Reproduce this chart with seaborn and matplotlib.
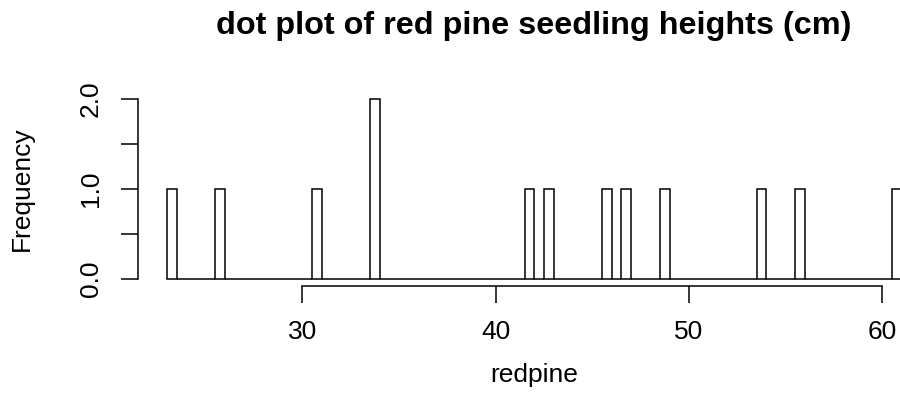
import numpy as np
import pandas as pd
import seaborn as sns
import matplotlib.pyplot as plt

# seedling heights (cm) (right-closed 0.5 cm bins)
redpine = [23.5, 26, 31, 34, 34, 42, 43, 46, 47, 49, 54, 56, 61]
bin_start, bin_stop, bin_width = 23, 61, 0.5
x_ticks = [30, 40, 50, 60]
y_ticks = [0.0, 0.5, 1.0, 1.5, 2.0]
y_tick_labels = ["0.0", "", "1.0", "", "2.0"]

edges = np.arange(bin_start, bin_stop + bin_width / 2, bin_width)
counts = pd.cut(pd.Series(redpine), edges, right=True).value_counts(sort=False)
df = pd.DataFrame({"mid": edges[:-1] + bin_width / 2, "count": counts.values})

sns.set_style("white")
plt.rcParams["font.family"] = ["Liberation Sans", "DejaVu Sans"]
plt.rcParams["text.color"] = "black"

fig = plt.figure(figsize=(9, 4.17), dpi=100)
W, H = 900, 417
# plot region in pixels (R usr extends 4% beyond the data range)
px_left, px_right, px_top, px_bottom = 137.5, 931, 92, 285.7
ax = fig.add_axes([px_left / W, 1 - px_bottom / H,
                   (px_right - px_left) / W, (px_bottom - px_top) / H])

sns.histplot(data=df, x="mid", weights="count", binwidth=bin_width,
             binrange=(bin_start, bin_stop), ax=ax,
             color="white", edgecolor="black", linewidth=1.1, alpha=1)

xr = bin_stop - bin_start
ax.set_xlim(bin_start - 0.04 * xr, bin_stop + 0.04 * xr)
ax.set_ylim(-0.08, 2.08)

for s in ["top", "right"]:
    ax.spines[s].set_visible(False)
ax.spines["bottom"].set_bounds(x_ticks[0], x_ticks[-1])
ax.spines["left"].set_bounds(y_ticks[0], y_ticks[-1])
for s in ["bottom", "left"]:
    ax.spines[s].set_color("black")
    ax.spines[s].set_linewidth(1.1)

ax.set_xticks(x_ticks)
ax.set_xticklabels([str(t) for t in x_ticks])
ax.set_yticks(y_ticks)
ax.set_yticklabels(y_tick_labels, rotation=90, va="center")
ax.tick_params(axis="both", direction="out", length=12, width=1.1,
               color="black", labelsize=19, labelcolor="black",
               bottom=True, left=True)
ax.tick_params(axis="x", pad=13)
ax.tick_params(axis="y", pad=13)
ax.set_xlabel("")
ax.set_ylabel("")

fig.text(534 / W, 1 - 26 / H,
         "dot plot of red pine seedling heights (cm)",
         ha="center", va="center", fontsize=23.3, fontweight="bold")
fig.text((px_left + px_right) / 2 / W, 1 - 375 / H, "redpine",
         ha="center", va="center", fontsize=19)
fig.text(22 / W, 1 - (px_top + px_bottom) / 2 / H, "Frequency",
         ha="center", va="center", fontsize=19, rotation=90)

plt.savefig("out.png", dpi=100)
plt.close()
